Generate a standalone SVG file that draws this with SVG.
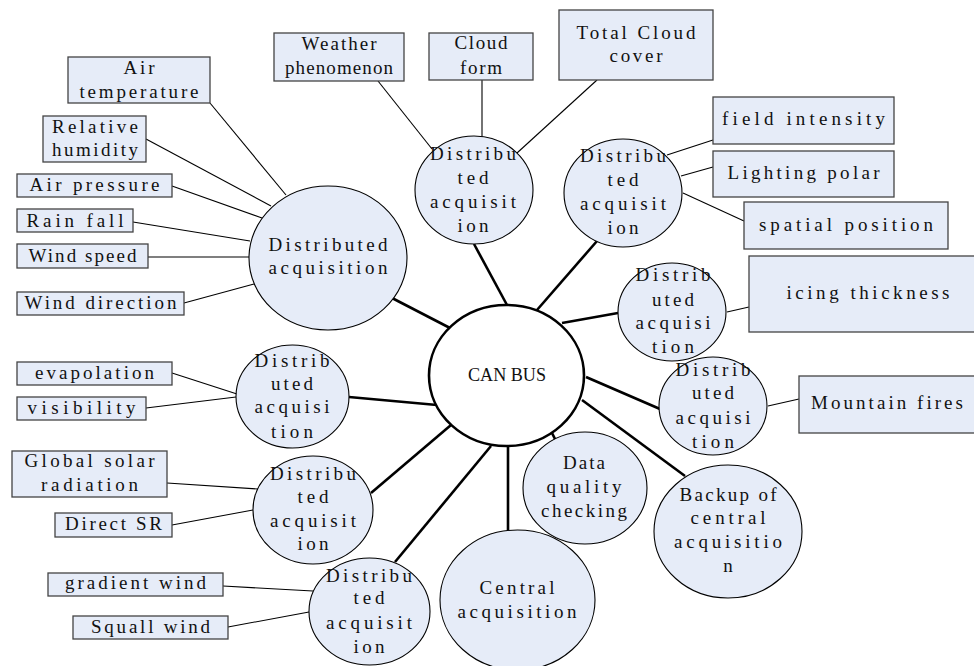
<svg xmlns="http://www.w3.org/2000/svg" width="974" height="666" viewBox="0 0 974 666">
<style>
.box{fill:#E6ECF8;stroke:#444;stroke-width:1.3}
.node{fill:#E6ECF8;stroke:#000;stroke-width:1.1}
.bus{fill:#fff;stroke:#000;stroke-width:2.6}
.thin{stroke:#000;stroke-width:1.1;fill:none}
.thick{stroke:#000;stroke-width:2.6;fill:none}
text{font-family:"Liberation Serif","DejaVu Serif",serif;font-size:19px;fill:#111;text-anchor:middle}
</style>
<rect width="974" height="666" fill="#fff"/>
<g id="connectors">
<line class="thin" x1="210" y1="103" x2="286" y2="195"/>
<line class="thin" x1="146" y1="139" x2="271" y2="206"/>
<line class="thin" x1="172" y1="186" x2="262" y2="218"/>
<line class="thin" x1="133" y1="222" x2="250" y2="241"/>
<line class="thin" x1="148" y1="257" x2="249" y2="257"/>
<line class="thin" x1="184" y1="303" x2="254" y2="284"/>
<line class="thin" x1="378" y1="81" x2="432" y2="149"/>
<line class="thin" x1="482" y1="80" x2="482" y2="137"/>
<line class="thin" x1="597" y1="80" x2="517" y2="153"/>
<line class="thin" x1="713" y1="140" x2="667" y2="155"/>
<line class="thin" x1="713" y1="167" x2="681" y2="176"/>
<line class="thin" x1="744" y1="221" x2="683" y2="193"/>
<line class="thin" x1="727" y1="312" x2="749" y2="307"/>
<line class="thin" x1="768" y1="406" x2="799" y2="399"/>
<line class="thin" x1="172" y1="373" x2="237" y2="394"/>
<line class="thin" x1="146" y1="408" x2="236" y2="397"/>
<line class="thin" x1="167" y1="483" x2="258" y2="489"/>
<line class="thin" x1="172" y1="525" x2="253" y2="510"/>
<line class="thin" x1="223" y1="586" x2="313" y2="591"/>
<line class="thin" x1="228" y1="627" x2="309" y2="612"/>
<line class="thick" x1="392" y1="298" x2="450" y2="328"/>
<line class="thick" x1="474" y1="244" x2="507" y2="305"/>
<line class="thick" x1="597" y1="241" x2="537" y2="310"/>
<line class="thick" x1="562" y1="323" x2="618" y2="313"/>
<line class="thick" x1="586" y1="377" x2="660" y2="409"/>
<line class="thick" x1="582" y1="400" x2="685" y2="476"/>
<line class="thick" x1="552" y1="433" x2="556" y2="441"/>
<line class="thick" x1="508" y1="446" x2="508" y2="531"/>
<line class="thick" x1="491" y1="446" x2="395" y2="562"/>
<line class="thick" x1="451" y1="425" x2="371" y2="493"/>
<line class="thick" x1="349" y1="397" x2="437" y2="405"/>
</g>
<g id="air-temperature"><rect class="box" x="68" y="57" width="142" height="46"/><text x="139" y="74" textLength="31">Air</text><text x="139" y="98" textLength="119">temperature</text></g>
<g id="relative-humidity"><rect class="box" x="43" y="116" width="103" height="46"/><text x="95" y="133" textLength="86">Relative</text><text x="95" y="156" textLength="86">humidity</text></g>
<g id="air-pressure"><rect class="box" x="17" y="174" width="155" height="23"/><text x="94.5" y="191" textLength="130">Air pressure</text></g>
<g id="rain-fall"><rect class="box" x="17" y="209" width="116" height="23"/><text x="75" y="227" textLength="97">Rain fall</text></g>
<g id="wind-speed"><rect class="box" x="17" y="244" width="131" height="24"/><text x="82.5" y="262" textLength="108">Wind speed</text></g>
<g id="wind-direction"><rect class="box" x="17" y="292" width="167" height="23"/><text x="100.5" y="309" textLength="152">Wind direction</text></g>
<g id="weather-phenomenon"><rect class="box" x="274" y="33" width="130" height="48"/><text x="339" y="50" textLength="75">Weather</text><text x="339" y="74" textLength="108">phenomenon</text></g>
<g id="cloud-form"><rect class="box" x="429" y="33" width="104" height="47"/><text x="481" y="49" textLength="53">Cloud</text><text x="481" y="74" textLength="42">form</text></g>
<g id="total-cloud-cover"><rect class="box" x="559" y="10" width="154" height="70"/><text x="636" y="39" textLength="119">Total Cloud</text><text x="636" y="62" textLength="53">cover</text></g>
<g id="field-intensity"><rect class="box" x="713" y="97" width="181" height="47"/><text x="803.5" y="125" textLength="163">field intensity</text></g>
<g id="lighting-polar"><rect class="box" x="713" y="151" width="181" height="46"/><text x="803.5" y="179" textLength="152">Lighting polar</text></g>
<g id="spatial-position"><rect class="box" x="744" y="202" width="204" height="47"/><text x="846" y="231" textLength="174">spatial position</text></g>
<g id="icing-thickness"><rect class="box" x="749" y="256" width="240" height="76"/><text x="868" y="299" textLength="163">icing thickness</text></g>
<g id="mountain-fires"><rect class="box" x="799" y="376" width="190" height="57"/><text x="887" y="409" textLength="152">Mountain fires</text></g>
<g id="evapolation"><rect class="box" x="17" y="362" width="155" height="23"/><text x="94.5" y="379" textLength="119">evapolation</text></g>
<g id="visibility"><rect class="box" x="17" y="397" width="129" height="23"/><text x="81.5" y="414" textLength="108">visibility</text></g>
<g id="global-solar-radiation"><rect class="box" x="12" y="451" width="155" height="46"/><text x="89.5" y="467" textLength="130">Global solar</text><text x="89.5" y="491" textLength="97">radiation</text></g>
<g id="direct-sr"><rect class="box" x="55" y="513" width="117" height="24"/><text x="113.5" y="530" textLength="97">Direct SR</text></g>
<g id="gradient-wind"><rect class="box" x="48" y="573" width="175" height="23"/><text x="135.5" y="589" textLength="141">gradient wind</text></g>
<g id="squall-wind"><rect class="box" x="73" y="616" width="155" height="23"/><text x="150.5" y="633" textLength="119">Squall wind</text></g>
<g id="dist-meteo"><ellipse class="node" cx="328" cy="258" rx="79" ry="72"/><text x="328" y="251" textLength="119">Distributed</text><text x="328" y="274" textLength="119">acquisition</text></g>
<g id="dist-cloud"><ellipse class="node" cx="474" cy="190" rx="59" ry="54"/><text x="473" y="160" textLength="86">Distribu</text><text x="473" y="184" textLength="31">ted</text><text x="473" y="208" textLength="86">acquisit</text><text x="473" y="232" textLength="31">ion</text></g>
<g id="dist-lightning"><ellipse class="node" cx="623" cy="193" rx="59" ry="54"/><text x="623" y="162" textLength="86">Distribu</text><text x="623" y="186" textLength="31">ted</text><text x="623" y="210" textLength="86">acquisit</text><text x="623" y="234" textLength="31">ion</text></g>
<g id="dist-icing"><ellipse class="node" cx="672" cy="312" rx="54" ry="49"/><text x="673" y="281" textLength="75">Distrib</text><text x="673" y="306" textLength="42">uted</text><text x="673" y="329" textLength="75">acquisi</text><text x="673" y="353" textLength="42">tion</text></g>
<g id="dist-fire"><ellipse class="node" cx="713" cy="406" rx="54" ry="49"/><text x="713" y="376" textLength="75">Distrib</text><text x="713" y="399" textLength="42">uted</text><text x="713" y="424" textLength="75">acquisi</text><text x="713" y="448" textLength="42">tion</text></g>
<g id="can-bus"><ellipse class="bus" cx="506.5" cy="375.5" rx="77.5" ry="70.5"/><text x="507" y="381" textLength="78" lengthAdjust="spacingAndGlyphs">CAN BUS</text></g>
<g id="data-quality"><ellipse class="node" cx="585" cy="488" rx="62" ry="56"/><text x="584" y="469" textLength="42">Data</text><text x="584" y="493" textLength="75">quality</text><text x="584" y="517" textLength="86">checking</text></g>
<g id="backup-central"><ellipse class="node" cx="728" cy="531.5" rx="74" ry="66.5"/><text x="728" y="501" textLength="97">Backup of</text><text x="728" y="524" textLength="75">central</text><text x="728" y="548" textLength="108">acquisitio</text><text x="728" y="572">n</text></g>
<g id="central-acquisition"><ellipse class="node" cx="517.5" cy="600" rx="77.5" ry="70"/><text x="517" y="594" textLength="75">Central</text><text x="517" y="618" textLength="119">acquisition</text></g>
<g id="dist-evap"><ellipse class="node" cx="292.5" cy="396.5" rx="56.5" ry="51.5"/><text x="292" y="367" textLength="75">Distrib</text><text x="292" y="390" textLength="42">uted</text><text x="292" y="413" textLength="75">acquisi</text><text x="292" y="438" textLength="42">tion</text></g>
<g id="dist-solar"><ellipse class="node" cx="313" cy="510" rx="60" ry="54"/><text x="313" y="480" textLength="86">Distribu</text><text x="313" y="503" textLength="31">ted</text><text x="313" y="527" textLength="86">acquisit</text><text x="313" y="550" textLength="31">ion</text></g>
<g id="dist-wind"><ellipse class="node" cx="369.5" cy="611.5" rx="60.5" ry="53.5"/><text x="369" y="582" textLength="86">Distribu</text><text x="369" y="604" textLength="31">ted</text><text x="369" y="629" textLength="86">acquisit</text><text x="369" y="653" textLength="31">ion</text></g>
</svg>
